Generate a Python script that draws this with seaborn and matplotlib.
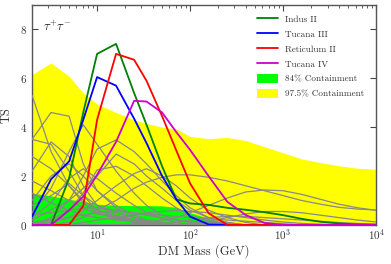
import numpy as np
import pandas as pd
import matplotlib
matplotlib.use("Agg")
import matplotlib.pyplot as plt
import seaborn as sns
from matplotlib.patches import Patch
from matplotlib.lines import Line2D

# ---------------- data ----------------
mass = [2, 3.2, 5, 7.1, 10, 16, 25, 34, 50, 71, 100, 158, 251, 398, 631,
        1000, 1585, 2512, 3981, 6310, 10000]

indus_ii = [0, 0, 1.9, 4.6, 7.0, 7.41, 5.4, 4.1, 2.4, 1.05, 0.88, 0.82, 0.7,
            0.62, 0.52, 0.4, 0.25, 0.13, 0.06, 0.02, 0.01]
tucana_iii = [0.34, 1.87, 2.6, 4.3, 6.05, 5.7, 4.35, 3.35, 2.0, 1.05, 0.34,
              0.02, 0, 0, 0, 0, 0, 0, 0, 0, 0]
reticulum_ii = [0, 0, 0, 0.78, 4.3, 7.0, 6.76, 5.9, 4.45, 3.05, 1.7, 0.48,
                0, 0, 0, 0, 0, 0, 0, 0, 0]
tucana_iv = [0, 0, 0.6, 1.16, 2.05, 3.4, 5.08, 5.05, 4.6, 3.8, 3.07, 2.0,
             0.95, 0.4, 0.08, 0, 0, 0, 0, 0, 0]

band_975 = [6.15, 6.63, 6.08, 5.4, 4.95, 4.6, 4.3, 4.15, 4.0, 3.93, 3.62,
            3.53, 3.58, 3.45, 3.2, 2.95, 2.7, 2.55, 2.42, 2.32, 2.28]
band_84 = [1.30, 1.19, 1.05, 0.96, 0.85, 0.80, 0.79, 0.79, 0.78, 0.72, 0.50,
           0.27, 0.08, 0.05, 0.04, 0.03, 0.03, 0.03, 0.03, 0.03, 0.03]

gray_curves = [
    [5.3, 3.0, 1.6, 0.9, 0.5, 0.25, 0.1, 0.05, 0, 0, 0, 0, 0, 0, 0, 0, 0, 0, 0, 0, 0],
    [3.5, 4.6, 4.45, 2.5, 1.4, 0.7, 0.3, 0.1, 0, 0, 0, 0, 0, 0, 0, 0, 0, 0, 0, 0, 0],
    [0.5, 1.5, 3.0, 4.1, 3.3, 2.2, 1.3, 0.8, 0.4, 0.2, 0.1, 0, 0, 0, 0, 0, 0, 0, 0, 0, 0],
    [3.5, 3.3, 2.2, 1.2, 0.6, 0.3, 0.1, 0, 0, 0, 0, 0, 0, 0, 0, 0, 0, 0, 0, 0, 0],
    [2.2, 3.4, 2.8, 1.6, 0.8, 0.4, 0.2, 0.1, 0, 0, 0, 0, 0, 0, 0, 0, 0, 0, 0, 0, 0],
    [1.0, 2.0, 2.5, 2.0, 1.4, 0.8, 0.4, 0.2, 0.1, 0, 0, 0, 0, 0, 0, 0, 0, 0, 0, 0, 0],
    [0, 0.3, 1.0, 2.0, 3.1, 3.48, 3.0, 2.5, 1.8, 1.2, 0.7, 0.3, 0.1, 0, 0, 0, 0, 0, 0, 0, 0],
    [0, 0.2, 0.6, 1.3, 2.25, 2.4, 2.0, 1.6, 1.1, 0.7, 0.4, 0.15, 0.05, 0, 0, 0, 0, 0, 0, 0, 0],
    [0, 0, 0.1, 0.3, 0.6, 1.0, 1.5, 1.75, 1.95, 2.05, 2.05, 1.95, 1.8, 1.6, 1.4, 1.2, 1.0, 0.85, 0.72, 0.65, 0.61],
    [0, 0, 0, 0, 0, 0, 0.05, 0.1, 0.2, 0.3, 0.5, 0.8, 1.1, 1.35, 1.43, 1.4, 1.25, 1.05, 0.85, 0.7, 0.6],
    [1.8, 1.4, 1.0, 0.7, 0.45, 0.3, 0.2, 0.1, 0.05, 0, 0, 0, 0, 0, 0, 0, 0, 0, 0, 0, 0],
    [0.8, 1.2, 1.7, 1.2, 0.8, 0.5, 0.3, 0.15, 0.05, 0, 0, 0, 0, 0, 0, 0, 0, 0, 0, 0, 0],
    [0.2, 0.6, 1.0, 1.5, 2.0, 2.9, 2.5, 2.0, 1.5, 1.0, 0.6, 0.3, 0.1, 0, 0, 0, 0, 0, 0, 0, 0],
    [0.4, 0.5, 0.6, 0.7, 0.7, 0.6, 0.5, 0.4, 0.3, 0.2, 0.15, 0.1, 0.05, 0, 0, 0, 0, 0, 0, 0, 0],
    [0.1, 0.2, 0.3, 0.4, 0.5, 0.55, 0.5, 0.45, 0.4, 0.35, 0.3, 0.25, 0.2, 0.15, 0.1, 0.05, 0, 0, 0, 0, 0],
    [0, 0, 0, 0.1, 0.2, 0.3, 0.4, 0.5, 0.55, 0.6, 0.55, 0.5, 0.4, 0.3, 0.2, 0.12, 0.06, 0.03, 0, 0, 0],
    [0, 0, 0, 0, 0, 0, 0, 0, 0.05, 0.1, 0.2, 0.3, 0.35, 0.35, 0.3, 0.25, 0.2, 0.15, 0.1, 0.06, 0.03],
    [2.8, 2.3, 1.6, 1.0, 0.6, 0.35, 0.2, 0.1, 0.05, 0, 0, 0, 0, 0, 0, 0, 0, 0, 0, 0, 0],
    [0.3, 0.9, 1.9, 2.3, 1.9, 1.3, 0.8, 0.5, 0.25, 0.1, 0, 0, 0, 0, 0, 0, 0, 0, 0, 0, 0],
    [0, 0.1, 0.3, 0.6, 1.0, 1.6, 2.1, 2.3, 2.0, 1.6, 1.1, 0.6, 0.3, 0.1, 0, 0, 0, 0, 0, 0, 0],
    [1.3, 0.9, 0.6, 0.4, 0.3, 0.2, 0.15, 0.1, 0.05, 0, 0, 0, 0, 0, 0, 0, 0, 0, 0, 0, 0],
    [0, 0, 0, 0, 0, 0, 0, 0, 0, 0, 0.05, 0.15, 0.3, 0.45, 0.55, 0.55, 0.5, 0.4, 0.3, 0.2, 0.12],
]

series_names = ["Indus II", "Tucana III", "Reticulum II", "Tucana IV"]
series_values = [indus_ii, tucana_iii, reticulum_ii, tucana_iv]
series_colors = ["#008000", "#0000ff", "#ff0000", "#cc00cc"]
band_labels = ["84% Containment", "97.5% Containment"]

# ---------------- style ----------------
sns.set_style("ticks")
plt.rcParams["font.family"] = ["cmr10", "DejaVu Serif"]
plt.rcParams["mathtext.fontset"] = "cm"
plt.rcParams["axes.formatter.use_mathtext"] = True
plt.rcParams["axes.unicode_minus"] = False

fig = plt.figure(figsize=(3.91, 2.64), dpi=100)
ax = fig.add_axes([0.082, 0.148, 0.880, 0.833])

ax.fill_between(mass, 0, band_975, color="#ffff00", lw=0, zorder=1)
ax.fill_between(mass, 0, band_84, color="#00ff00", lw=0, zorder=2)

gray_df = pd.DataFrame({
    "mass": np.tile(mass, len(gray_curves)),
    "ts": np.concatenate(gray_curves),
    "curve": np.repeat(np.arange(len(gray_curves)), len(mass)),
})
sns.lineplot(data=gray_df, x="mass", y="ts", units="curve", estimator=None,
             color="#888888", lw=0.9, ax=ax, zorder=3, legend=False)

main_df = pd.DataFrame({
    "mass": np.tile(mass, len(series_names)),
    "ts": np.concatenate(series_values),
    "name": np.repeat(series_names, len(mass)),
})
sns.lineplot(data=main_df, x="mass", y="ts", hue="name",
             hue_order=series_names, palette=series_colors,
             estimator=None, lw=1.3, ax=ax, zorder=4, legend=False)

ax.set_xscale("log")
ax.set_xlim(2, 1e4)
ax.set_ylim(0, 9)
ax.set_yticks([0, 2, 4, 6, 8])
ax.set_xlabel("DM Mass (GeV)", fontsize=9, labelpad=1)
ax.set_ylabel("TS", fontsize=9, labelpad=5)
ax.tick_params(axis="both", which="both", direction="in", top=True,
               right=True, labelsize=8, colors="#444444", labelcolor="#333333")
ax.tick_params(axis="x", which="major", pad=2)
ax.tick_params(which="major", length=4)
ax.tick_params(which="minor", length=2)
for s in ax.spines.values():
    s.set_color("#555555")
    s.set_linewidth(1.0)
ax.xaxis.label.set_color("#333333")
ax.yaxis.label.set_color("#333333")

ax.text(0.032, 0.935, r"$\tau^{+}\tau^{-}$", transform=ax.transAxes,
        fontsize=9, va="top", ha="left", color="#222222")

handles = [Line2D([], [], color=c, lw=1.3) for c in series_colors]
handles += [Patch(facecolor="#00ff00", edgecolor="none"),
            Patch(facecolor="#ffff00", edgecolor="none")]
leg = ax.legend(handles, series_names + band_labels, loc="upper right",
                bbox_to_anchor=(0.985, 0.985), frameon=False, fontsize=6.6,
                handlelength=2.3, handleheight=1.0, handletextpad=0.8,
                labelspacing=0.62, borderaxespad=0.3)
for t in leg.get_texts():
    t.set_color("#333333")

fig.savefig("out.png", dpi=100)
